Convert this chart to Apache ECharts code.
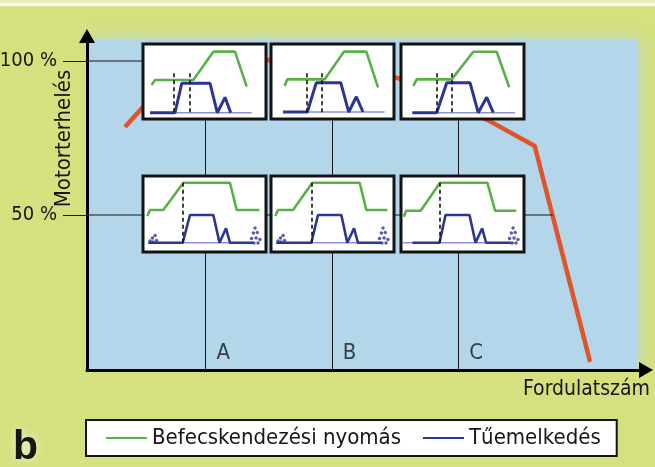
<!DOCTYPE html>
<html><head><meta charset="utf-8">
<script src="https://cdn.jsdelivr.net/npm/echarts@6/dist/echarts.min.js"></script>
<style>html,body{margin:0;padding:0;background:#d5e07e}#c{width:655px;height:467px}</style>
</head><body><div id="c"></div>
<script>
// ---------------- data ----------------
const loadTicks = [50, 100];                 // Motorterhelés ticks (%)
const zoneNames = ['A', 'B', 'C'];
const zoneRpm = [21.2, 43.8, 66.4];          // Fordulatszám positions of the three zones
const zoneLabelLoad = 5;
const torqueCurve = [[6.8,78.6],[9.8,84.7],[18.4,96.4],[25.6,99.7],[32.4,100.3],[43.5,98.4],[55.6,94.5],[71.7,80.8],[80.1,72.4],[90,2.3]];
const fullLoadLine = [[0,100],[10,100]];
const partLoadLine = [[0,50],[83.3,50]];

// mini diagrams (0..100 each): injection pressure (green) & needle lift (blue)
const pressureA100 = [[7,45.3],[9.8,52],[40.9,52],[57.2,89.8],[74.8,89.8],[84.3,43.1]];
const liftA100     = [[5.7,8.4],[26,8.4],[31.5,47.6],[54.5,47.6],[60.4,8.4],[66.7,28.9],[71.3,8.4]];
const baseA100     = [[5.7,8.4],[88.4,8.4]];
const markA100     = [24.7, 37.7];

const pressureB100 = [[11.1,44],[13.3,52.9],[43.7,52.9],[59.3,89.8],[77.5,89.8],[87,42.2]];
const liftB100     = [[9.8,9.3],[29.5,9.3],[36.8,48.4],[56.7,48.4],[63.2,9.3],[69.4,29.7],[74.8,9.3]];
const baseB100     = [[9.8,9.3],[92.4,9.3]];
const markB100     = [28.7, 41.5];

const pressureC100 = [[10,44],[12.8,52.9],[41.2,52.9],[58.8,89.7],[77.8,89.7],[88,42.3]];
const liftC100     = [[9.2,8.4],[29,8.4],[37.2,48.4],[56.1,48.4],[62.8,8.4],[69.7,28.9],[75,8.4]];
const baseC100     = [[9.2,8.4],[92.7,8.4]];
const markC100     = [29, 41.2];

const pressureA50 = [[3.5,47.4],[5.7,55.3],[16.5,55.3],[32.8,91.2],[70.7,91.2],[76.2,55.3],[94.6,55.3]];
const liftA50     = [[4.3,12.2],[32.3,12.2],[38.2,48.7],[57.2,48.7],[62.2,12.2],[67.5,31.2],[70.7,12.2],[89.7,12.2]];
const baseA50     = [[4.3,12.2],[89.7,12.2]];
const markA50     = [32.4];

const pressureB50 = [[3.5,47.4],[5.7,55.3],[17.9,55.3],[33.6,91.2],[72.1,91.2],[77.5,55.3],[94.6,55.3]];
const liftB50     = [[4.3,12.2],[32.8,12.2],[38.2,48.7],[57.2,48.7],[62,12.2],[67.5,31.2],[70.7,12.2],[89.7,12.2]];
const baseB50     = [[4.3,12.2],[89.7,12.2]];
const markB50     = [32.8];

const pressureC50 = [[2.3,46.4],[4.2,54.3],[16,54.3],[31.7,91.2],[70.2,91.2],[76.5,54.3],[93.7,54.3]];
const liftC50     = [[9.3,12.2],[31.3,12.2],[36.2,48.7],[55.7,48.7],[60.6,12.2],[66,31.2],[69.2,12.2],[89.1,12.2]];
const baseC50     = [[1,12.2],[92,12.2]];
const markC50     = [31.3];

const markSpan100 = [8.4, 60.9];
const markSpan50  = [12.2, 91.2];
const dropsPilot  = [[5.7,14.5],[7.7,18.4],[9.8,21.7],[8.1,13.2],[11,15.1]];
const dropsPost   = [[91.1,31.6],[89.7,25],[92.9,25.7],[88.2,17.8],[91.9,18.4],[95.1,16.4],[90.2,11.8],[93.5,11.8]];

const legendNames = ['Befecskendezési nyomás', 'Tűemelkedés'];
const yAxisTitle = 'Motorterhelés';
const xAxisTitle = 'Fordulatszám';
const panelTag = 'b';

// ---------------- styling / layout ----------------
const FONT = "'DejaVu Sans Condensed', 'Liberation Sans Narrow', sans-serif";
const C = {bg:'#d5e07e', area:'#b3d6ea', red:'#e0532b', green:'#58b147', navy:'#2c3594', faint:'#8d91d6', ink:'#161616'};
const Y_MIN = -0.32, Y_MAX = 108.12;

const miniLayout = [
  {left:143, top:44, width:123, height:75},
  {left:271, top:44, width:123, height:75},
  {left:401, top:44, width:123, height:75},
  {left:143, top:176, width:123, height:76},
  {left:271, top:176, width:123, height:76},
  {left:401, top:176, width:123, height:76}
];
const minis = [
  {p:pressureA100, l:liftA100, base:baseA100, marks:markA100, span:markSpan100, drops:[]},
  {p:pressureB100, l:liftB100, base:baseB100, marks:markB100, span:markSpan100, drops:[]},
  {p:pressureC100, l:liftC100, base:baseC100, marks:markC100, span:markSpan100, drops:[]},
  {p:pressureA50,  l:liftA50,  base:baseA50,  marks:markA50,  span:markSpan50, drops:[dropsPilot, dropsPost]},
  {p:pressureB50,  l:liftB50,  base:baseB50,  marks:markB50,  span:markSpan50, drops:[dropsPilot, dropsPost]},
  {p:pressureC50,  l:liftC50,  base:baseC50,  marks:markC50,  span:markSpan50, drops:[dropsPost]}
];

const grids = [{left:87, top:36, right:9, bottom:97, outerBoundsMode:'none'}];
const xAxes = [{
  type:'value', gridIndex:0, min:0, max:100,
  axisLine:{show:true, onZero:false, symbol:['none','triangle'], symbolSize:[16,14], lineStyle:{color:'#000', width:3}},
  axisTick:{show:false}, axisLabel:{show:false}, splitLine:{show:false},
  name:xAxisTitle, nameLocation:'end', nameGap:4,
  nameTextStyle:{align:'right', verticalAlign:'top', padding:[9,0,0,0], fontSize:21, fontFamily:FONT, color:C.ink}
}];
const yAxes = [{
  type:'value', gridIndex:0, min:Y_MIN, max:Y_MAX,
  axisLine:{show:true, onZero:false, symbol:['none','triangle'], symbolSize:[16,14], lineStyle:{color:'#000', width:3}},
  axisTick:{show:true, customValues:loadTicks, length:24, lineStyle:{color:C.ink, width:1}},
  axisLabel:{customValues:loadTicks, formatter: v => v + ' %', margin:30, fontSize:20, fontFamily:FONT, color:C.ink},
  splitLine:{show:false}
}];

const series = [
  {type:'line', name:'Nyomatékgörbe', data:torqueCurve, symbol:'none', z:1, silent:true,
   lineStyle:{color:C.red, width:4.5}, itemStyle:{color:C.red}},
  {type:'line', name:'100 %', data:fullLoadLine, symbol:'none', z:1, silent:true, lineStyle:{color:C.ink, width:1}},
  {type:'line', name:'50 %', data:partLoadLine, symbol:'none', z:1, silent:true, lineStyle:{color:C.ink, width:1}},
  {type:'scatter', name:'Tartomány', z:1, silent:true, symbolSize:0,
   data: zoneRpm.map((x,i) => ({value:[x, zoneLabelLoad], name:zoneNames[i]})),
   label:{show:true, formatter:'{b}', position:'right', distance:11, fontSize:22, fontFamily:FONT, color:C.ink},
   markLine:{z:1, silent:true, symbol:['none','none'], label:{show:false}, lineStyle:{color:C.ink, width:1, type:'solid'},
     data: zoneRpm.map(x => [{coord:[x, Y_MIN]}, {coord:[x, 90]}])}}
];

miniLayout.forEach((g, i) => {
  const k = i + 1, m = minis[i];
  grids.push(Object.assign({show:true, backgroundColor:'#fff', borderColor:'#141414', borderWidth:3, z:3, outerBoundsMode:'none'}, g));
  xAxes.push({type:'value', gridIndex:k, min:0, max:100, show:false});
  yAxes.push({type:'value', gridIndex:k, min:0, max:100, show:false});
  series.push({type:'line', name:'alapvonal', xAxisIndex:k, yAxisIndex:k, data:m.base, symbol:'none', z:5, silent:true,
    lineStyle:{color:C.faint, width:1.6}, itemStyle:{color:C.faint}});
  series.push({type:'line', name:legendNames[0], xAxisIndex:k, yAxisIndex:k, data:m.p, symbol:'none', z:6, silent:true,
    lineStyle:{color:C.green, width:2.6}, itemStyle:{color:C.green}});
  series.push({type:'line', name:legendNames[1], xAxisIndex:k, yAxisIndex:k, data:m.l, symbol:'none', z:6, silent:true,
    lineStyle:{color:C.navy, width:i < 3 ? 3 : 2.6}, itemStyle:{color:C.navy},
    markLine:{z:7, silent:true, symbol:['none','none'], label:{show:false}, lineStyle:{color:'#111', width:1.6, type:[4,3]},
      data: m.marks.map(x => [{coord:[x, m.span[1]]}, {coord:[x, m.span[0]]}])}});
  m.drops.forEach(d => series.push({type:'scatter', name:'cseppek', xAxisIndex:k, yAxisIndex:k, data:d, z:6, silent:true,
    symbol:'circle', symbolSize:3.5, itemStyle:{color:C.navy}}));
});

const chart = echarts.init(document.getElementById('c'), null, {renderer:'canvas'});
chart.setOption({
  backgroundColor: C.bg,
  animation: false,
  grid: grids, xAxis: xAxes, yAxis: yAxes, series: series,
  legend: {
    data: legendNames.map(n => ({name:n, icon:'rect'})),
    left: 86, top: 420, itemWidth: 41, itemHeight: 2, itemGap: 22, selectedMode: false,
    backgroundColor: '#fff', borderColor: '#141414', borderWidth: 2, padding: [7, 16, 7, 20],
    textStyle: {fontSize: 22, fontFamily: FONT, color: C.ink}
  },
  graphic: [
    {type:'rect', z:-3, shape:{x:0, y:0, width:655, height:3}, style:{fill:'#e8eeb8'}},
    {type:'rect', z:-3, shape:{x:0, y:3, width:655, height:3}, style:{fill:'#ffffff'}},
    {type:'rect', z:-2, shape:{x:88, y:40, width:550, height:330}, style:{fill:C.area, shadowBlur:16, shadowColor:C.area}},
    {type:'rect', z:-1, shape:{x:0, y:8, width:86, height:459}, style:{fill:C.bg}},
    {type:'rect', z:-1, shape:{x:0, y:371, width:655, height:96}, style:{fill:C.bg}},
    {type:'text', z:10, x:64.5, y:138.5, rotation:Math.PI/2,
     style:{text:yAxisTitle, fill:C.ink, font:"22px 'DejaVu Sans Condensed', sans-serif", align:'center', verticalAlign:'middle'}},
    {type:'text', z:10, x:13, y:468, style:{text:panelTag, fill:C.ink, font:"bold 41px 'Liberation Sans', sans-serif", align:'left', verticalAlign:'bottom',
      textShadowColor:'rgba(255,255,255,0.7)', textShadowBlur:10}}
  ]
});
</script></body></html>
